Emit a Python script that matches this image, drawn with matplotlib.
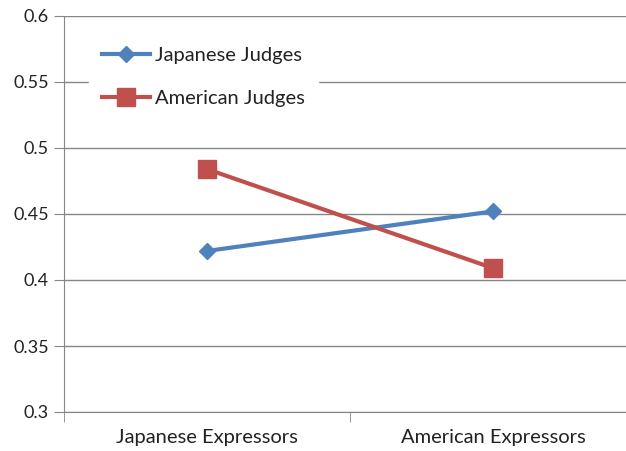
import matplotlib.pyplot as plt

plt.rcParams['font.family'] = ['Lato', 'DejaVu Sans']

# Data
categories = ['Japanese Expressors', 'American Expressors']
japanese_judges = [0.422, 0.452]
american_judges = [0.484, 0.409]
yticks = [0.3, 0.35, 0.4, 0.45, 0.5, 0.55, 0.6]
ytick_labels = ['0.3', '0.35', '0.4', '0.45', '0.5', '0.55', '0.6']

blue = '#4F81BD'
red = '#C0504D'
gray = '#868686'

fig = plt.figure(figsize=(6.26, 4.51), dpi=100)
ax = fig.add_axes([64 / 626, 39 / 451, 572 / 626, 396 / 451])

x = range(len(categories))
ax.plot(x, japanese_judges, color=blue, lw=3, marker='D', ms=8.5,
        label='Japanese Judges', zorder=3)
ax.plot(x, american_judges, color=red, lw=3, marker='s', ms=12.5,
        label='American Judges', zorder=3)

ax.set_xlim(-0.5, 1.5)
ax.set_ylim(0.3, 0.6)
ax.set_yticks(yticks)
ax.set_yticklabels(ytick_labels)
ax.set_xticks(list(x))
ax.set_xticklabels(categories)
ax.set_xticks([-0.5, 0.5, 1.5], minor=True)
ax.tick_params(axis='x', which='major', length=0, pad=12, labelsize=14.5,
               colors='#222222')
ax.tick_params(axis='x', which='minor', length=7, color=gray, direction='out')
ax.tick_params(axis='y', length=7, color=gray, direction='out', pad=4,
               labelsize=13, labelcolor='#222222')

ax.grid(axis='y', color=gray, lw=1)
ax.set_axisbelow(True)
for side in ['top', 'right']:
    ax.spines[side].set_visible(False)
for side in ['left', 'bottom']:
    ax.spines[side].set_color(gray)

leg = ax.legend(loc='upper left', bbox_to_anchor=(0.026, 0.98), frameon=True,
                fancybox=False, edgecolor='white', facecolor='white',
                framealpha=1, handlelength=2.4, handletextpad=0.25,
                fontsize=14.5, labelspacing=1.26, borderpad=0.65)
for t in leg.get_texts():
    t.set_color('#222222')

fig.savefig('out.png', dpi=100)
